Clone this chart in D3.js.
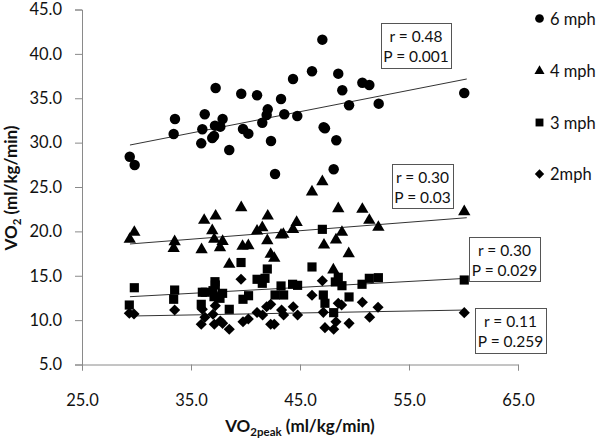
<!DOCTYPE html>
<html><head><meta charset="utf-8">
<script src="https://cdn.jsdelivr.net/npm/d3@7"></script>
<style>
body{margin:0;background:#fff;}
text{font-family:Lato,"Open Sans",sans-serif;fill:#111;}
</style></head>
<body><svg id="c" width="600" height="440"></svg>
<script>
// ---- data ----
const xTicks = [25, 35, 45, 55, 65];
const yTicks = [5, 10, 15, 20, 25, 30, 35, 40, 45];
const seriesNames = ["6 mph", "4 mph", "3 mph", "2mph"];

const mph6 = [[29.38,28.41],[29.83,27.48],[33.41,30.97],[33.53,32.66],[35.94,29.92],[36.04,31.50],[36.26,33.19],[36.95,30.52],[37.11,30.75],[37.20,31.91],[37.69,31.80],[37.26,36.15],[37.90,32.66],[38.51,29.17],[39.61,35.51],[39.77,31.54],[40.26,31.01],[41.06,35.33],[41.54,32.24],[41.94,33.11],[42.04,33.75],[42.34,30.18],[42.71,26.46],[43.26,34.92],[43.56,33.19],[44.36,37.17],[44.75,33.00],[46.10,38.04],[47.05,41.60],[47.17,31.73],[47.29,31.61],[48.09,27.00],[48.33,30.26],[48.51,37.77],[48.88,35.90],[49.50,34.21],[50.72,36.75],[51.36,36.49],[52.22,34.39],[60.07,35.59]];
const mph4 = [[29.38,19.11],[29.80,19.90],[33.41,18.09],[33.50,18.84],[35.97,17.94],[36.21,21.25],[36.95,20.08],[37.13,19.11],[37.26,21.73],[37.66,18.16],[37.90,18.88],[38.51,16.29],[39.61,22.67],[39.73,18.32],[40.26,18.39],[41.06,20.04],[41.54,20.41],[42.04,21.73],[42.00,18.95],[42.31,17.42],[42.64,16.97],[43.26,19.59],[43.47,19.67],[44.36,20.23],[44.69,21.02],[46.10,24.44],[47.05,25.60],[47.20,18.46],[48.06,15.65],[48.30,19.03],[48.51,22.55],[48.85,19.90],[49.47,17.48],[50.72,22.49],[51.36,21.25],[52.19,20.46],[60.07,22.22]];
const mph3 = [[29.34,11.70],[29.80,13.65],[33.41,12.35],[33.50,13.39],[35.94,11.78],[36.04,13.14],[36.31,13.14],[37.02,13.32],[37.11,12.64],[37.20,14.33],[37.23,13.96],[37.66,12.46],[37.90,13.02],[38.51,11.22],[39.59,16.49],[39.77,12.35],[40.28,12.75],[41.06,14.60],[41.54,14.15],[41.79,14.71],[42.00,15.76],[42.71,12.83],[43.26,13.85],[43.50,12.83],[44.32,14.04],[44.78,13.92],[46.10,15.99],[47.05,20.23],[47.14,12.83],[47.29,11.90],[48.09,10.84],[48.24,14.30],[48.51,14.83],[48.85,13.88],[49.50,12.61],[50.69,14.04],[51.36,14.71],[52.19,14.78],[60.07,14.52]];
const mph2 = [[29.34,10.77],[29.77,10.69],[33.50,11.14],[35.94,9.53],[36.04,11.22],[36.28,10.32],[37.02,10.66],[37.14,9.53],[37.23,11.63],[37.69,9.90],[37.90,9.64],[38.51,8.97],[39.59,14.60],[39.77,9.82],[40.26,10.13],[41.06,10.86],[41.57,10.58],[41.94,11.51],[42.31,11.78],[42.31,9.53],[42.64,9.53],[43.31,11.14],[43.50,10.58],[44.38,11.51],[44.78,10.58],[46.10,12.80],[47.05,14.44],[47.14,10.88],[47.29,9.15],[48.09,8.97],[48.30,9.82],[48.51,11.90],[48.82,11.70],[49.50,9.64],[50.72,12.01],[51.39,10.32],[52.16,11.45],[60.07,10.84]];

// fitted trend lines (start / end)
const trend6 = [[29.4,29.73],[60.3,37.17]];
const trend4 = [[29.4,18.58],[60.3,21.54]];
const trend3 = [[29.4,12.64],[60.3,14.71]];
const trend2 = [[29.4,10.46],[60.3,11.14]];

const stats = [["r = 0.48","P = 0.001"],["r = 0.30","P = 0.03"],["r = 0.30","P = 0.029"],["r = 0.11","P = 0.259"]];

// ---- chart ----
const svg = d3.select("#c");
const x = d3.scaleLinear().domain([25,65]).range([82,518]);
const y = d3.scaleLinear().domain([5,45]).range([364.5,9.5]);
const axisColor = "#8a8a8a";
const F = "Lato,'Open Sans',sans-serif";

// axes
const gx = svg.append("g").attr("transform",`translate(0,${y(5)})`)
  .call(d3.axisBottom(x).tickValues(xTicks).tickFormat(d3.format(".1f")).tickSize(6).tickPadding(24));
const gy = svg.append("g").attr("transform",`translate(${x(25)},0)`)
  .call(d3.axisLeft(y).tickValues(yTicks).tickFormat(d3.format(".1f")).tickSize(7).tickPadding(13));
[gx,gy].forEach(g=>{
  g.select(".domain").attr("stroke",axisColor);
  g.selectAll(".tick line").attr("stroke",axisColor);
  g.selectAll(".tick text").attr("font-size",16.5).attr("font-family",F).attr("fill","#111");
});

// trend lines
const line = d3.line().x(d=>x(d[0])).y(d=>y(d[1]));
[trend6,trend4,trend3,trend2].forEach(t=>{
  svg.append("path").attr("d",line(t)).attr("stroke","#333").attr("stroke-width",1).attr("fill","none");
});

// markers
const sym = {
  circle: d3.symbol().type(d3.symbolCircle).size(86),
  tri: d3.symbol().type(d3.symbolTriangle).size(66),
  sq: d3.symbol().type(d3.symbolSquare).size(84),
  dia: d3.symbol().type(d3.symbolSquare).size(62)
};
function plot(data, s, rot){
  svg.append("g").selectAll("path").data(data).join("path")
    .attr("d", s)
    .attr("transform", d=>`translate(${x(d[0])},${y(d[1])})${rot?" rotate(45)":""}`)
    .attr("fill","#000");
}
plot(mph2, sym.dia, true);
plot(mph3, sym.sq, false);
plot(mph4, sym.tri, false);
plot(mph6, sym.circle, false);

// stat boxes
const boxes = [[381,23,70,45],[392,164,61,44],[469,237,71,44],[475,308,71,45]];
boxes.forEach((b,i)=>{
  const g = svg.append("g");
  g.append("rect").attr("x",b[0]+0.5).attr("y",b[1]+0.5).attr("width",b[2]).attr("height",b[3])
    .attr("fill","#fff").attr("stroke","#555").attr("stroke-width",1);
  g.append("text").attr("x",b[0]+b[2]/2).attr("y",b[1]+19).attr("text-anchor","middle").attr("font-size",15.5).text(stats[i][0]);
  g.append("text").attr("x",b[0]+b[2]/2).attr("y",b[1]+39).attr("text-anchor","middle").attr("font-size",15.5).text(stats[i][1]);
});

// legend
const legSyms = [
  d3.symbol().type(d3.symbolCircle).size(60)(),
  d3.symbol().type(d3.symbolTriangle).size(44)(),
  d3.symbol().type(d3.symbolSquare).size(62)(),
  d3.symbol().type(d3.symbolSquare).size(44)()
];
const legY = [18.5, 71, 122.5, 174];
seriesNames.forEach((n,i)=>{
  svg.append("path").attr("d",legSyms[i])
    .attr("transform",`translate(539.5,${legY[i]})${i===3?" rotate(45)":""}`).attr("fill","#000");
  svg.append("text").attr("x",550).attr("y",legY[i]+6).attr("font-size",16.5).text(n);
});

// axis titles
const xt = svg.append("text").attr("x",300).attr("y",432).attr("text-anchor","middle")
  .attr("font-size",17).attr("font-weight","bold");
xt.append("tspan").text("VO");
xt.append("tspan").attr("font-size",11.5).attr("dy",4).text("2peak");
xt.append("tspan").attr("dy",-4).text(" (ml/kg/min)");

const yt = svg.append("text").attr("transform","translate(17,188) rotate(-90)").attr("text-anchor","middle")
  .attr("font-size",17).attr("font-weight","bold");
yt.append("tspan").text("VO");
yt.append("tspan").attr("font-size",11.5).attr("dy",4).text("2");
yt.append("tspan").attr("dy",-4).text(" (ml/kg/min)");
</script></body></html>
